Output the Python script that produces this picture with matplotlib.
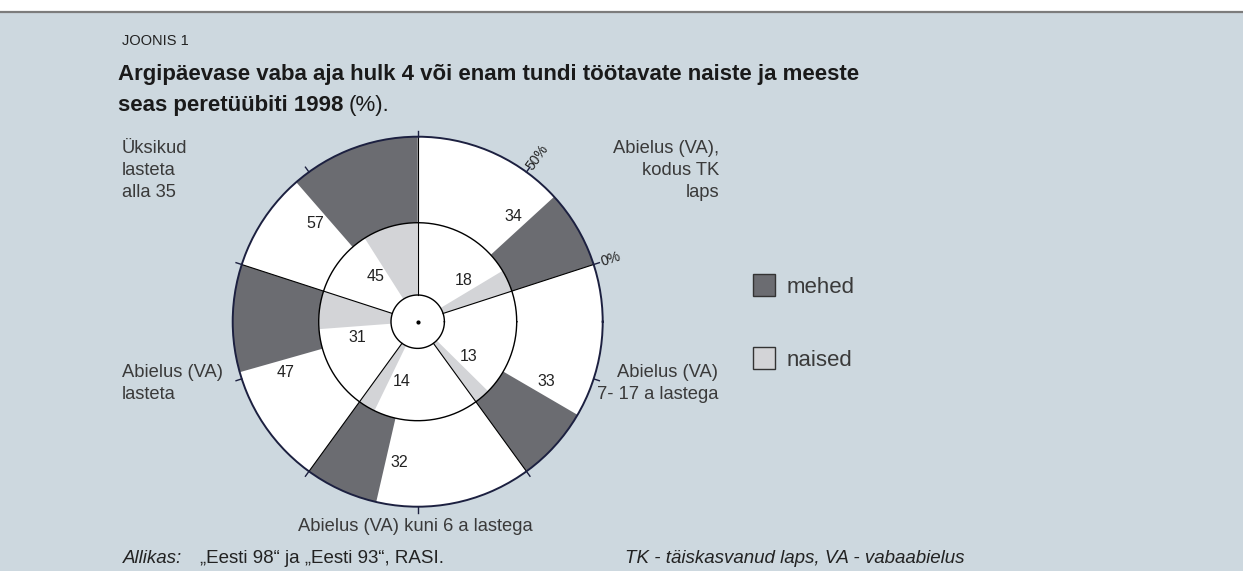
import numpy as np
import matplotlib
matplotlib.use('Agg')
import matplotlib.pyplot as plt
from matplotlib.patches import Rectangle

# data
categories = ['Abielus (VA),\nkodus TK\nlaps', 'Üksikud\nlasteta\nalla 35',
              'Abielus (VA)\nlasteta', 'Abielus (VA) kuni 6 a lastega',
              'Abielus (VA)\n7- 17 a lastega']
mehed = [34, 57, 47, 32, 33]
naised = [18, 45, 31, 14, 13]
series_labels = ['mehed', 'naised']
scale_ticks = [0, 50]

# colours
bg_col = '#cdd8df'
dark = '#6b6c71'
light = '#d3d4d7'
navy = '#1c2040'
txt = '#3a3a3a'

fam = ['Liberation Sans', 'DejaVu Sans']

W, H = 1243, 571
fig = plt.figure(figsize=(W / 100, H / 100), dpi=100, facecolor=bg_col)

# background axes in pixel units
bg = fig.add_axes([0, 0, 1, 1], zorder=0)
bg.set_xlim(0, W)
bg.set_ylim(H, 0)
bg.axis('off')
bg.add_patch(Rectangle((0, 0), W, 11.5, color='white', lw=0))
bg.plot([0, W], [11.5, 11.5], color='#7c7c7c', lw=1.6)

# polar chart
cx, cy, R = 417.7, 321.7, 185
r_in, r_mid = 26.7, 99
ax = fig.add_axes([(cx - R) / W, (H - cy - R) / H, 2 * R / W, 2 * R / H],
                  projection='polar', zorder=1)
ax.set_ylim(0, R)
ax.set_facecolor('white')
ax.set_xticks([])
ax.set_yticks([])
ax.grid(False)
ax.spines['polar'].set_color(navy)
ax.spines['polar'].set_linewidth(1.4)

sector = 72.0  # degrees = 100 %
starts = 18 + sector * np.arange(len(mehed))

ax.bar(np.deg2rad(starts), R - r_mid, width=np.deg2rad(np.array(mehed) * sector / 100),
       bottom=r_mid, align='edge', color=dark, lw=0)
ax.bar(np.deg2rad(starts), r_mid - r_in, width=np.deg2rad(np.array(naised) * sector / 100),
       bottom=r_in, align='edge', color=light, lw=0)

th = np.linspace(0, 2 * np.pi, 500)
ax.plot(th, np.full_like(th, r_mid), color='black', lw=1)
ax.plot(th, np.full_like(th, r_in), color='black', lw=1)
for s in starts:
    ax.plot([np.deg2rad(s)] * 2, [r_in, R], color='black', lw=0.8)
ax.plot([0], [0], 'o', color='black', ms=2)

for s, m, n in zip(starts, mehed, naised):
    a = s + m * sector / 100 + 5.3
    ax.text(np.deg2rad(a), 142, str(m), ha='center', va='center',
            fontsize=11.5, family=fam, color='#222222')
    a = s + n * sector / 100 + 10.5
    ax.text(np.deg2rad(a), 62, str(n), ha='center', va='center',
            fontsize=11.5, family=fam, color='#222222')

# outer ticks every half sector
for k in range(10):
    t = np.deg2rad(starts[0] + 36 * k)
    ax.plot([t, t], [R, R + 6], color=navy, lw=1, clip_on=False)
for p in scale_ticks:
    a = starts[0] + p * sector / 100
    ax.text(np.deg2rad(a), 203, f'{p}%', rotation=a, ha='center', va='center',
            fontsize=10, family=fam, color='#222222')

# category labels (baseline = last line)
lab_kw = dict(fontsize=13.2, family=fam, color=txt, linespacing=1.39, va='baseline')
bg.text(719, 197, categories[0], ha='right', multialignment='right', **lab_kw)
bg.text(122, 197, categories[1], ha='left', **lab_kw)
bg.text(122, 399, categories[2], ha='left', **lab_kw)
bg.text(415, 531, categories[3], ha='center', **lab_kw)
bg.text(718, 399, categories[4], ha='right', multialignment='right', **lab_kw)

# legend
for y, col, lab in [(274.3, dark, series_labels[0]), (347.3, light, series_labels[1])]:
    bg.add_patch(Rectangle((753.3, y), 22, 22, facecolor=col, edgecolor='#333333', lw=1))
    bg.text(786.7, y + 19, lab, ha='left', va='baseline', fontsize=16,
            family=fam, color=txt)

# titles
bg.text(122, 45, 'JOONIS 1', ha='left', va='baseline', fontsize=10.5,
        family=fam, color='#222222')
bg.text(118, 80, 'Argipäevase vaba aja hulk 4 või enam tundi töötavate naiste ja meeste',
        ha='left', va='baseline', fontsize=16, family=fam, weight='bold', color='#1a1a1a')
t2 = bg.text(118, 111, 'seas peretüübiti 1998', ha='left', va='baseline', fontsize=16,
             family=fam, weight='bold', color='#1a1a1a')
fig.canvas.draw()
bb = t2.get_window_extent()
x_end = bg.transData.inverted().transform((bb.x1, bb.y0))[0]
bg.text(x_end + 5, 111, '(%).', ha='left', va='baseline', fontsize=16,
        family=fam, color='#1a1a1a')

# footer
bg.text(123, 563, 'Allikas:', ha='left', va='baseline', fontsize=13.5, family=fam,
        style='italic', color='#222222')
bg.text(200, 563, '„Eesti 98“ ja „Eesti 93“, RASI.', ha='left', va='baseline',
        fontsize=13.5, family=fam, color='#222222')
bg.text(625, 563, 'TK - täiskasvanud laps, VA - vabaabielus', ha='left', va='baseline',
        fontsize=13.5, family=fam, style='italic', color='#222222')

fig.savefig('out.png', dpi=100, facecolor=bg_col)
